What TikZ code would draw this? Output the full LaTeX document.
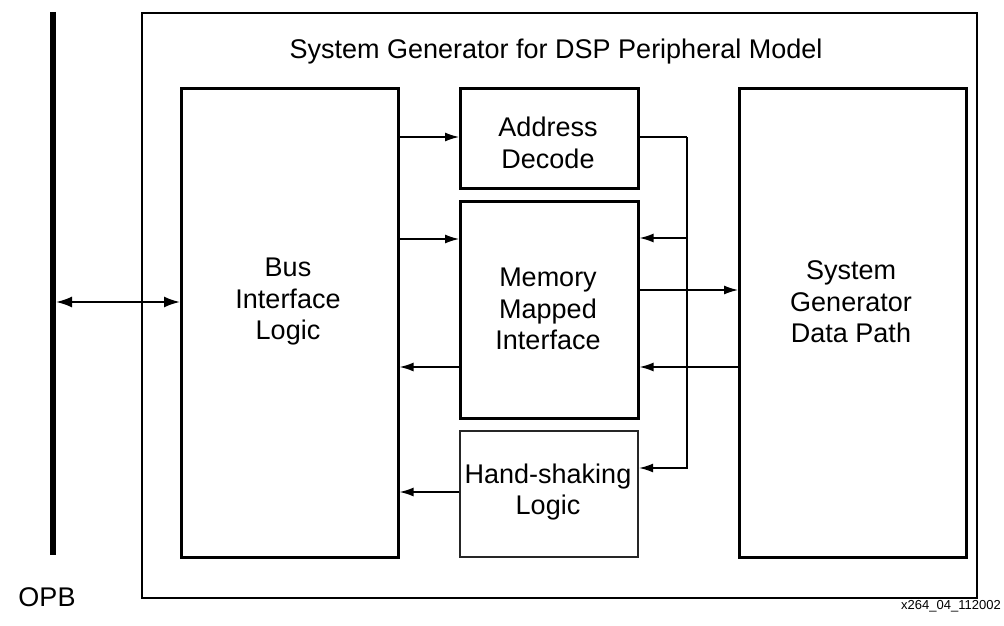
\documentclass[tikz,border=0pt]{standalone}
\usepackage{fontspec}
\setmainfont{Liberation Sans}
\usetikzlibrary{arrows.meta}
\begin{document}
\begin{tikzpicture}[x=1pt,y=-1pt,
  blk/.style={draw=black,line width=2.6pt,inner sep=0pt,anchor=north west},
  txt/.style={align=center,font=\fontsize{27}{31.5}\selectfont,inner sep=0pt},
  arr/.style={line width=1.4pt,-{Latex[length=14pt,width=9pt]}},
  ln/.style={line width=1.4pt}]
\useasboundingbox (0,0) rectangle (1004,626);
\node[draw=black,line width=1.8pt,inner sep=0pt,anchor=north west,minimum width=835pt,minimum height=585pt] (outer) at (141,12) {};
\node[txt] (title) at (556,52) {System Generator for DSP Peripheral Model};
\coordinate (bartop) at (53,12);
\coordinate (barbot) at (53,555);
\draw[line width=6pt] (bartop) -- (barbot);
\node[txt] (opb) at (47,597) {OPB};
\node[font=\fontsize{13}{15}\selectfont,inner sep=0pt] (ref) at (951,606) {x264\_04\_112002};
\node[blk,minimum width=217pt,minimum height=469pt] (bus) at (180,87) {};
\node[blk,minimum width=178pt,minimum height=100pt] (ad) at (459,87) {};
\node[blk,minimum width=178pt,minimum height=217pt] (mm) at (459,200) {};
\node[blk,draw=black!85,line width=2.2pt,minimum width=178pt,minimum height=126pt] (hs) at (459,430) {};
\node[blk,minimum width=227pt,minimum height=469pt] (dp) at (738,87) {};
\node[txt] (bust) at (288,302) {Bus\\Interface\\Logic};
\node[txt] (adt) at (548,143) {Address\\Decode};
\node[txt] (mmt) at (548,309) {Memory\\Mapped\\Interface};
\node[txt] (hst) at (548,492) {Hand-shaking\\Logic};
\node[txt] (dpt) at (851,302) {System\\Generator\\Data Path};
\coordinate (bar) at (56,302);
\draw[line width=2pt,{Latex[length=16pt,width=11pt]}-{Latex[length=16pt,width=11pt]}] (bar) -- (bus.west |- bar);
\draw[arr] (bus.east |- 0,137) -- (ad.west |- 0,137);
\draw[arr] (bus.east |- 0,239) -- (mm.west |- 0,239);
\draw[arr] (mm.west |- 0,367) -- (bus.east |- 0,367);
\draw[arr] (hs.west |- 0,492) -- (bus.east |- 0,492);
\coordinate (v) at (687,137);
\draw[ln] (ad.east |- v) -- (v);
\draw[arr] (v) -- (687,468) -- (hs.east |- 0,468);
\draw[arr] (687,238) -- (mm.east |- 0,238);
\draw[arr] (mm.east |- 0,290) -- (dp.west |- 0,290);
\draw[arr] (dp.west |- 0,367) -- (mm.east |- 0,367);
\end{tikzpicture}
\end{document}
